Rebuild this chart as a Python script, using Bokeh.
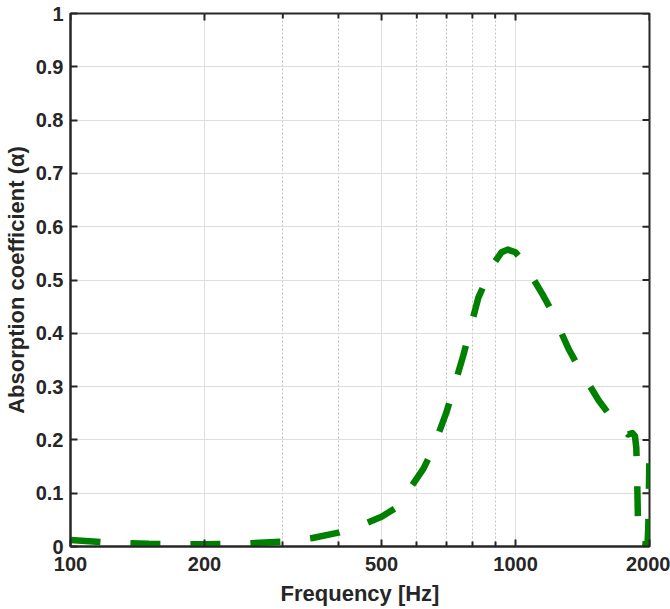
import math
from bokeh.plotting import figure
from bokeh.models import FixedTicker, CustomJSTickFormatter, ColumnDataSource
from bokeh.embed import file_html
from bokeh.resources import INLINE

# Data
freq_hz = [100, 120, 150, 200, 250, 300, 350, 400, 450, 500, 540, 596, 621, 650,
           699, 763, 825, 870, 900, 930, 960, 1000, 1050, 1100, 1150, 1200, 1317,
           1400, 1538, 1650, 1790, 1830, 1855, 1868, 1876, 1883, 1890, 1905, 1950,
           1980, 1988, 1994, 1998]
alpha = [0.012, 0.008, 0.005, 0.004, 0.006, 0.009, 0.016, 0.026, 0.040, 0.056, 0.073,
         0.124, 0.146, 0.180, 0.251, 0.358, 0.467, 0.510, 0.535, 0.552, 0.557, 0.552,
         0.530, 0.500, 0.473, 0.445, 0.370, 0.330, 0.274, 0.240, 0.210, 0.213, 0.207,
         0.185, 0.130, 0.060, 0.015, 0.005, 0.004, 0.006, 0.040, 0.110, 0.156]

x_major_ticks = [100, 200, 500, 1000, 2000]
x_minor_ticks = [300, 400, 600, 700, 800, 900]
y_ticks = [0, 0.1, 0.2, 0.3, 0.4, 0.5, 0.6, 0.7, 0.8, 0.9, 1.0]

FONT = "Liberation Sans"
TXT = "#262626"

x_lo, x_hi = x_major_ticks[0], x_major_ticks[-1]
y_lo, y_hi = y_ticks[0], y_ticks[-1]

p = figure(width=670, height=609, x_axis_type="log", x_range=(x_lo, x_hi), y_range=(y_lo, y_hi),
           output_backend="svg", toolbar_location=None,
           min_border_left=69, min_border_right=21, min_border_top=13, min_border_bottom=63,
           background_fill_color="white", border_fill_color="white")

src = ColumnDataSource(data=dict(f=freq_hz, a=alpha))
p.line("f", "a", source=src, line_color="#008000", line_width=6.5,
       line_dash="30 30", line_join="round", line_cap="butt")

# mirrored tick marks on the top and right edges (clipped to the frame, so only the inner half shows)
p.scatter(x=x_major_ticks, y=[y_hi] * len(x_major_ticks), marker="dash", angle=math.pi / 2,
          size=14, line_color=TXT, line_width=2)
p.scatter(x=x_minor_ticks, y=[y_hi] * len(x_minor_ticks), marker="dash", angle=math.pi / 2,
          size=10, line_color=TXT, line_width=2)
p.scatter(x=[x_hi] * len(y_ticks), y=y_ticks, marker="dash",
          size=14, line_color=TXT, line_width=2)

xfmt = CustomJSTickFormatter(code="return tick.toFixed(0);")
yfmt = CustomJSTickFormatter(code="return tick.toFixed(1).replace(/\\.0$/, '');")

xa = p.xaxis[0]
xa.ticker = FixedTicker(ticks=x_major_ticks, minor_ticks=x_minor_ticks)
xa.formatter = xfmt
xa.axis_label = "Frequency [Hz]"
ya = p.yaxis[0]
ya.ticker = FixedTicker(ticks=y_ticks)
ya.formatter = yfmt
ya.axis_label = "Absorption coefficient (α)"

for ax in (xa, ya):
    ax.major_label_text_font = FONT
    ax.major_label_text_font_style = "bold"
    ax.major_label_text_font_size = "20px"
    ax.major_label_text_color = TXT
    ax.axis_label_text_font = FONT
    ax.axis_label_text_font_style = "bold"
    ax.axis_label_text_font_size = "22px"
    ax.axis_label_text_color = TXT
    ax.axis_line_color = TXT
    ax.axis_line_width = 2
    ax.major_tick_in = 7
    ax.major_tick_out = 0
    ax.minor_tick_in = 5
    ax.minor_tick_out = 0
    ax.major_tick_line_color = TXT
    ax.major_tick_line_width = 2
    ax.minor_tick_line_color = TXT
    ax.minor_tick_line_width = 2

xa.major_label_standoff = 10
xa.axis_label_standoff = 7
ya.major_label_standoff = 7
ya.axis_label_standoff = 4
ya.minor_tick_line_color = None

p.xgrid.grid_line_color = "#dedede"
p.xgrid.grid_line_width = 1
p.xgrid.minor_grid_line_color = "#c2c2c2"
p.xgrid.minor_grid_line_dash = "2 2"
p.xgrid.minor_grid_line_width = 1
p.ygrid.grid_line_color = "#dedede"
p.ygrid.grid_line_width = 1

p.outline_line_color = TXT
p.outline_line_width = 2

open("out.html", "w").write(file_html(p, INLINE))
